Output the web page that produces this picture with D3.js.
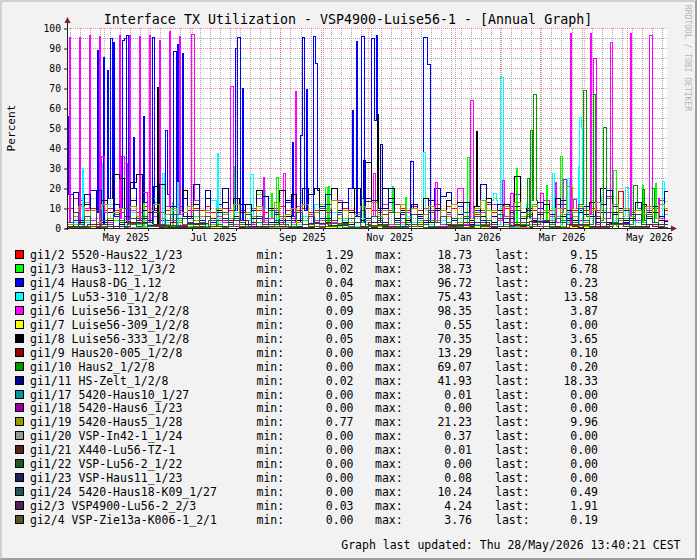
<!DOCTYPE html>
<html>
<head>
<meta charset="utf-8">
<script src="https://cdn.jsdelivr.net/npm/d3@7/dist/d3.min.js"></script>
<style>
body{margin:0;background:#f2f2f2;}
svg{display:block;}
text{font-family:"DejaVu Sans Mono",monospace;}
</style>
</head>
<body>
<script>
//--- data ---
let title = "Interface TX Utilization - VSP4900-Luise56-1 - [Annual Graph]"
let updated = "Graph last updated: Thu 28/May/2026 13:40:21 CEST"
let tEnd = new Date(2026,4,28,13,40,21)
let spanDays = 418.4          // days shown in the 600px canvas
let stepDays = 4              // step of the normal series
let coarseDays = 14           // step of the near-zero series

let names = ["gi1/2 5520-Haus22_1/23","gi1/3 Haus3-112_1/3/2","gi1/4 Haus8-DG_1.12","gi1/5 Lu53-310_1/2/8",
    "gi1/6 Luise56-131_2/2/8","gi1/7 Luise56-309_1/2/8","gi1/8 Luise56-333_1/2/8","gi1/9 Haus20-005_1/2/8",
    "gi1/10 Haus2_1/2/8","gi1/11 HS-Zelt_1/2/8","gi1/17 5420-Haus10_1/27","gi1/18 5420-Haus6_1/23",
    "gi1/19 5420-Haus5_1/28","gi1/20 VSP-In42-1_1/24","gi1/21 X440-Lu56-TZ-1","gi1/22 VSP-Lu56-2_1/22",
    "gi1/23 VSP-Haus11_1/23","gi1/24 5420-Haus18-K09_1/27","gi2/3 VSP4900-Lu56-2_2/3","gi2/4 VSP-Zie13a-K006-1_2/1"]
let colors = ["#ff0000","#00ff00","#0000ff","#00ffff","#ff00ff","#ffff00","#000000","#990000","#009900","#000099",
    "#009999","#990099","#999900","#999999","#552222","#225522","#222255","#225555","#552255","#555522"]
let mins  = [1.29,0.02,0.04,0.05,0.09,0.00,0.05,0.00,0.00,0.02,0.00,0.00,0.77,0.00,0.00,0.00,0.00,0.00,0.03,0.00]
let maxs  = [18.73,38.73,96.72,75.43,98.35,0.55,70.35,13.29,69.07,41.93,0.01,0.00,21.23,0.37,0.01,0.00,0.08,10.24,4.24,3.76]
let lasts = [9.15,6.78,0.23,13.58,3.87,0.00,3.65,0.10,0.20,18.33,0.00,0.00,9.96,0.00,0.00,0.00,0.00,0.49,1.91,0.19]

let yTicks = [0,10,20,30,40,50,60,70,80,90,100]

// base values, one per stepDays
let red_v = [10,15,14,9,10,8,9,10,9,8, 10,9,8,11,9,10,8,9,10,9, 8,9,10,9,11,8,9,10,9,8, 9,12,10,9,8,9,10,11,9,8,
    9,10,8,9,10,9,8,9,10,9, 8,9,10,9,8,7,9,12,10,9, 11,9,10,8,12,9,11,10,7,6, 1.3,7,9,12,8,9,10,9,11,8,
    7,9,10,8,9,12,10,8,9,11, 9,10,8,9,16,12,18.73,10,8,9, 11,9,10,14,9.15]
let lime_v = [1,2,0.5,13,1,3,2,1,4,2, 1,5,2,1,3,13,1,2,1,4, 2,1,6,2,1,3,9,1,2,4, 1,2,3,17,1,5,2,1,3,2,
    1,4,2,1,12,2,3,1,5,2, 1,3,2,6,1,2,8,1,3,2, 1,4,2,1,3,2,14,1,5,2, 1,3,2,9,1,4,2,7,1,3,
    2,11,1,4,2,6,1,3,8,2, 1,5,2,12,3,1,4,2,9,1, 3,2,5,1,6.78]
let blue_v = [17,4,12,3,19,8,2,15,6,10, 3,20,5,13,2,9,4,17,3,11, 6,2,14,4,8,3,12,5,2,9, 4,7,3,11,5,2,8,4,13,6,
    3,9,2,19,5,12,3,8,4,20, 6,3,15,5,9,2,13,4,7,3, 10,5,12,3,20,4,8,2,11,5, 3,9,4,13,2,7,5,11,3,8,
    6,2,10,4,7,3,12,5,2,9, 4,13,3,8,2,11,5,3,7,4, 2,6,3,12,0.23]
let cyan_v = [1,3,0.5,3,2,1,4,12,1,3, 2,8,1,4,2,15,1,3,9,1, 2,5,1,6,2,14,1,3,2,8, 1,4,2,1,10,2,5,1,3,1,
    2,6,1,12,2,3,8,1,4,2, 1,5,3,1,7,2,1,4,2,6, 3,1,9,2,1,4,2,5,1,3, 8,2,6,1,14,2,3,1,5,2,
    12,1,4,8,2,1,6,2,15,1, 3,5,2,9,1,4,2,6,1,3, 2,10,1,4,13.58]
let magenta_v = [3,6,2,10,4,1,8,3,12,5, 2,9,4,18,3,6,2,11,4,7, 2,5,14,3,8,1,6,3,10,2, 4,7,2,15,3,5,9,2,6,3,
    11,2,7,4,2,8,3,14,2,5, 3,9,2,6,4,12,2,5,3,8, 2,6,4,11,3,2,7,4,20,2, 5,3,8,2,12,4,6,2,17,3,
    9,5,2,14,6,3,8,2,10,4, 3,7,2,12,5,3,9,2,6,4, 2,8,3,5,3.87]
let black_v = [1,6,3,12,2,9,14,4,27,25, 3,23,27,5,8,2,22,4,10,3, 19,6,12,2,15,4,9,13,3,15, 8,12,5,19,4,10,3,19,6,17,
    4,12,17,20,9,5,20,13,3,8, 20,4,33,6,10,20,15,5,9,4, 12,7,15,3,10,6,14,5,13,8, 4,11,6,15,3,9,12,5,26,8,
    10,4,7,12,3,15,6,9,4,11, 7,13,5,20,3,8,10,4,6,9, 12,5,8,4,3.65]
let maroon_v = [0.5,1,2,0.3,1,0.5,3,1,0.2,2, 1,0.5,4,0.3,1,2,0.5,1,3,0.2, 1,0.5,2,1,0.3,5,1,0.5,2,1, 0.3,1,3,0.5,2,1,0.2,1,4,0.5,
    1,2,0.3,1,0.5,3,1,0.2,2,1, 0.5,1,13.29,0.3,2,1,0.5,3,1,0.2, 2,1,0.5,4,1,0.3,2,1,0.5,3, 1,0.2,2,1,0.5,5,1,0.3,2,1,
    0.5,3,1,0.2,2,1,0.5,4,1,0.3, 2,1,0.5,3,1,0.2,2,1,0.5,1, 0.3,2,1,0.5,0.1]
let green_v = [0.5,1,2,0.3,1,3,0.5,2,1,4, 0.5,2,1,0.3,3,1,2,0.5,1,5, 0.3,2,1,3,0.5,1,2,0.3,4,1, 2,0.5,1,3,0.3,2,1,6,0.5,1,
    3,0.3,2,1,0.5,4,1,2,0.3,1, 3,0.5,2,1,5,0.3,1,2,0.5,3, 1,2,0.3,4,1,0.5,3,2,1,6, 0.5,8,2,4,1,12,3,6,9,2,
    5,14,3,8,2,10,4,7,3,12, 6,2,9,4,15,3,8,5,2,10, 4,7,3,2,0.2]
let navy_v = [2,18,4,17,1,19,3,8,12,2, 6,14,3,9,4,21,2,7,11,3, 15,5,22,2,19,4,8,20,3,6, 12,2,9,5,16,3,7,2,14,4,
    8,20,6,3,11,17,4,9,13,2, 7,15,5,14,3,10,20,4,8,2, 12,6,3,14,9,16,18,4,7,13, 2,10,22,4,6,12,3,8,11,5,
    9,4,13,3,7,10,14,5,2,8, 11,6,3,12,19,7,4,9,5,13, 2,8,11,6,18.33]
let olive_v = [2,6,11,4,9,3,12,5,8,10, 4,11,6,3,9,12,5,7,10,3, 8,11,4,6,9,2,10,7,5,12, 3,8,6,11,4,9,13,5,7,10,
    3,12,6,8,4,10,14,5,9,3, 7,11,4,13,6,9,0.77,8,12,5, 10,3,7,11,4,9,6,12,3,8, 5,10,14,4,9,7,11,3,13,6,
    8,12,5,9,4,10,7,21.23,6,11, 3,9,13,5,8,12,4,10,6,9, 7,11,3,12,9.96]
let slate_v = [3,8,2,6,1,9,4,2,7,3, 10.24,5,1,6,3,8,2,4,7,1, 5,3,9,2,6,1,4,8,2,5, 3,7,1,6,2,9,4,3,1,5,
    8,2,6,3,10,1,4,7,2,5, 3,9,1,6,4,2,8,3,5,1, 7,2,4,9,3,6,1,5,2,8, 3,6,1,4,2,7,5,1,9,3,
    6,2,8,4,1,5,3,7,2,10, 4,1,6,3,8,2,5,1,4,7, 2,6,3,1,0.49]

// near-zero series, one value per coarseDays
let yellow_v = [0.1,0.3,0.2,0.55,0.1,0,0.2,0.3,0.1,0.4,0.2,0,0.1,0.3,0.2,0.1,0,0.2,0.4,0.1,0.3,0.2,0,0.1,0.2,0.3,0.1,0,0.2,0]
let teal_v   = [0,0,0.01,0,0,0,0,0.01,0,0,0,0,0,0.01,0,0,0,0,0,0,0.01,0,0,0,0,0,0,0,0,0]
let purple_v = [0,0,0,0,0,0,0,0,0,0,0,0,0,0,0,0,0,0,0,0,0,0,0,0,0,0,0,0,0,0]
let gray_v   = [0,0.1,0,0.37,0,0.2,0,0,0.1,0,0.3,0,0,0.1,0,0,0.2,0,0,0.1,0,0,0.3,0,0.1,0,0,0.2,0,0]
let g21_v    = [0,0,0.01,0,0,0,0,0,0,0.01,0,0,0,0,0,0,0.01,0,0,0,0,0,0,0,0.01,0,0,0,0,0]
let g22_v    = [0,0,0,0,0,0,0,0,0,0,0,0,0,0,0,0,0,0,0,0,0,0,0,0,0,0,0,0,0,0]
let g23_v    = [0,0.02,0,0.08,0,0.01,0,0,0.03,0,0,0.05,0,0,0.02,0,0,0.01,0,0.04,0,0,0.02,0,0,0.01,0,0.03,0,0]
let g23b_v   = [1.2,2.1,0.8,3.0,1.5,0.5,2.4,1.1,4.24,0.9,1.8,0.4,2.6,1.3,0.7,3.1,1.0,2.2,0.6,1.7,2.9,0.8,1.4,3.3,0.5,2.0,1.2,2.7,0.9,1.91]
let g24b_v   = [0.4,1.1,0.2,2.3,0.8,1.6,0.3,3.76,0.9,0.5,1.8,0.2,1.2,2.5,0.6,1.4,0.3,2.0,0.9,0.5,1.6,0.2,2.8,1.0,0.4,1.3,0.7,2.1,0.5,0.19]

// short peaks: [day from start, length in days, value]
let magenta_pk = [[1.4,1,95.7],[8.4,1,95.7],[15.3,1,96.5],[22.3,1,96],[23.5,2,36],[36.3,1,96.5],[37.6,2,36],[40,2,32.5],
    [43.2,1,96.5],[50.2,1,96],[57.2,1,96.5],[64.2,1,94],[71.1,1,98.35],[78.1,1,96],[86.5,2,97],[113.7,2,71],
    [136.7,1,25.5],[150.6,1.5,27.5],[159,1,68.5],[213.4,1.5,27.5],[256.6,1.5,23],[281,2,64],[303.4,1,24],[309,2,17.5],
    [329.8,2,17.5],[340.3,1,23],[345.9,2,24.5],[350.8,1,97.5],[353,2,14.5],[364.7,1,97.5],[366.8,2,85],[378.7,1,93],
    [392.6,1,97.5],[405.9,2,96.5],[412.1,1,15]]
let blue_pk = [[0,1,56],[20.9,1,89],[25.1,1,85.7],[27.9,1,79],[30,1.5,95],[32.1,1,93],[38.4,1.4,94],[39.8,1.4,95],
    [41.2,1.4,96.5],[46,1,45.5],[53,1,56],[59.3,1.5,95.5],[68.3,1.5,49],[73.9,2,88.5],[76.7,1,92],[80.2,1,87.5],
    [117.2,1,90],[118.5,2,95.5],[122,1,70],[156.9,1,43],[162.5,1.5,46.5],[164,1,95.5],[166.7,1,69.5],[171.5,1.5,96],
    [173,1,82.7],[198.7,1,59],[201.5,1,93.5],[205,2,96],[212,2,95],[214,1.5,54],[215.5,1,96.72],[239.2,2,33.5],
    [248.3,2.5,95.5],[250.8,2,82]]
let black_pk = [[62.8,1,70.35],[216.2,1,57],[285.2,1,48.5]]
let navy_pk = [[206.4,1.5,34],[218,2,41.93]]
let cyan_pk = [[10.5,1,30],[23.7,1,32.5],[66.3,1.5,27.5],[76.7,1,23],[104.6,1,37.5],[127.6,2,27],[136.7,1.5,19],
    [248.3,1,38],[297,2,17.5],[302,2,75.43],[338.2,1.5,27.5],[348.7,1.5,25],[356.4,0.7,31],[357.1,1.2,55.5],
    [358.3,1,50],[372.4,1.5,16],[389.2,2,20.5],[415,1.5,23.5]]
let lime_pk = [[53,1,38.73],[73.2,1,13],[115.8,1,31],[142.3,1,17.5],[145.8,1,25.5],[180,1,20.5],[182,1,21],
    [206.4,1,18],[226.6,1,21],[235.7,1,15.5],[279,1.5,35.5],[291.5,1,14],[313.1,1,30],[334,1,21.5],[343.8,1.5,36],
    [380.8,2,29],[401,1,21.5],[410,1,22.5]]
let green_pk = [[320.8,1.5,25],[323,1,49],[325,2,67],[359.9,2,69.07],[366.8,1.5,67],[373.8,2,50.5],[394.7,2.5,21.5],
    [401,1.5,19.5],[408,1.5,20]]

// series table in drawing order
let series = [
    {v:red_v, s:stepDays, pk:[]},      {v:lime_v, s:stepDays, pk:lime_pk},
    {v:blue_v, s:stepDays, pk:blue_pk}, {v:cyan_v, s:stepDays, pk:cyan_pk},
    {v:magenta_v, s:stepDays, pk:magenta_pk}, {v:yellow_v, s:coarseDays, pk:[]},
    {v:black_v, s:stepDays, pk:black_pk}, {v:maroon_v, s:stepDays, pk:[]},
    {v:green_v, s:stepDays, pk:green_pk}, {v:navy_v, s:stepDays, pk:navy_pk},
    {v:teal_v, s:coarseDays, pk:[]},   {v:purple_v, s:coarseDays, pk:[]},
    {v:olive_v, s:stepDays, pk:[]},    {v:gray_v, s:coarseDays, pk:[]},
    {v:g21_v, s:coarseDays, pk:[]},    {v:g22_v, s:coarseDays, pk:[]},
    {v:g23_v, s:coarseDays, pk:[]},    {v:slate_v, s:stepDays, pk:[]},
    {v:g23b_v, s:coarseDays, pk:[]},   {v:g24b_v, s:coarseDays, pk:[]}
]
series.forEach((d,i)=>{ d.color = colors[i] })

//--- layout ---
let W = 697, H = 560
let X0 = 67, X1 = 667, YT = 28, YB = 228
let DAY = 864e5
let tStart = new Date(+tEnd - spanDays*DAY)

let svg = d3.select("body").append("svg")
    .attr("width", W)
    .attr("height", H)

// background + shade frame
svg.append("rect").attr("width", W).attr("height", H).attr("fill", "#f2f2f2")
svg.append("path").attr("d", `M0.5,${H}V0.5H${W} M1.5,${H-1}V1.5H${W-1}`)
    .attr("fill", "none").attr("stroke", "#cfcfcf")
svg.append("path").attr("d", `M0,${H-0.5}H${W-0.5}V0 M1,${H-1.5}H${W-1.5}V1`)
    .attr("fill", "none").attr("stroke", "#9e9e9e")

// canvas
svg.append("rect").attr("x", X0).attr("y", YT).attr("width", X1-X0).attr("height", YB-YT).attr("fill", "#fff")

let xScale = d3.scaleTime().domain([tStart, tEnd]).range([X0, X1])
let yScale = d3.scaleLinear().domain([0, 100]).range([YB, YT])
let px = t => Math.round(xScale(t)) + 0.5
let py = v => Math.round(yScale(v)) + 0.5

// grid
let grid = svg.append("g").attr("shape-rendering", "crispEdges")
    .attr("stroke-dasharray", "1,1").attr("fill", "none")
let weeks = d3.timeMonday.range(tStart, tEnd)
let months = d3.timeMonth.range(tStart, tEnd)
let minorY = d3.range(5, 100, 10)
grid.selectAll(".wk").data(weeks).enter().append("line")
    .attr("x1", d=>px(d)).attr("x2", d=>px(d)).attr("y1", YT).attr("y2", YB)
    .attr("stroke", "rgba(143,143,143,0.8)")
grid.selectAll(".hy").data(minorY).enter().append("line")
    .attr("x1", X0).attr("x2", X1).attr("y1", d=>py(d)).attr("y2", d=>py(d))
    .attr("stroke", "rgba(143,143,143,0.8)")
grid.selectAll(".mo").data(months).enter().append("line")
    .attr("x1", d=>px(d)).attr("x2", d=>px(d)).attr("y1", YT).attr("y2", YB)
    .attr("stroke", "rgba(222,79,79,0.6)")
grid.selectAll(".my").data(yTicks.slice(1)).enter().append("line")
    .attr("x1", X0).attr("x2", X1).attr("y1", d=>py(d)).attr("y2", d=>py(d))
    .attr("stroke", "rgba(222,79,79,0.6)")

// turn base values + peaks into step points
function steps(d){
    let cuts = new Set()
    d.v.forEach((v,i)=>cuts.add(i*d.s))
    d.pk.forEach(p=>{ cuts.add(p[0]); cuts.add(p[0]+p[1]) })
    let ts = Array.from(cuts).filter(t=>t < spanDays).sort((a,b)=>a-b)
    let pts = ts.map(t=>{
        let p = d.pk.find(p=>t >= p[0] && t < p[0]+p[1])
        let v = p ? p[2] : d.v[Math.min(d.v.length-1, Math.floor(t/d.s))]
        return {t: new Date(+tStart + t*DAY), v: v}
    })
    pts.push({t: tEnd, v: pts[pts.length-1].v})
    return pts
}

let line = d3.line()
    .x(d=>px(d.t))
    .y(d=>py(d.v))
    .curve(d3.curveStepAfter)

svg.append("g").selectAll("path")
    .data(series)
    .enter()
    .append("path")
    .attr("d", d=>line(steps(d)))
    .attr("fill", "none")
    .attr("stroke", d=>d.color)
    .attr("stroke-width", 1)
    .attr("shape-rendering", "crispEdges")

// axes
let yAxis = d3.axisLeft(yScale).tickValues(yTicks).tickSize(3).tickPadding(3)
let ya = svg.append("g").attr("transform", `translate(${X0},0.5)`).call(yAxis)
ya.select(".domain").remove()
ya.selectAll("line").attr("stroke", "#1f1f1f")
ya.selectAll("text").style("font-family", "DejaVu Sans Mono").style("font-size", "9.7px").attr("fill", "#000")

let labelMonths = d3.timeMonth.range(tStart, tEnd).filter(d=>d.getMonth() % 2 == 0)
    .map(d=>new Date(+d + 15*DAY))
let xAxis = d3.axisBottom(xScale).tickValues(labelMonths).tickFormat(d3.timeFormat("%b %Y")).tickSize(0).tickPadding(6)
let xa = svg.append("g").attr("transform", `translate(0,${YB})`).call(xAxis)
xa.select(".domain").remove()
xa.selectAll("text").style("font-family", "DejaVu Sans Mono").style("font-size", "9.7px").attr("fill", "#000")

// small ticks on the time axis
svg.append("g").selectAll("line").data(months).enter().append("line")
    .attr("x1", d=>px(d)).attr("x2", d=>px(d)).attr("y1", YB).attr("y2", YB+3)
    .attr("stroke", "#1f1f1f").attr("shape-rendering", "crispEdges")

// axis lines + arrows
svg.append("path").attr("d", `M${X0+0.5},${YB+2}V${YT-6} M${X0-2},${YB+0.5}H${X1+6}`)
    .attr("stroke", "#1f1f1f").attr("shape-rendering", "crispEdges")
svg.append("path").attr("d", `M${X0-2.5},${YT-5}L${X0+0.5},${YT-11}L${X0+3.5},${YT-5}Z`).attr("fill", "#7f1f1f")
svg.append("path").attr("d", `M${X1+4},${YB-2.5}L${X1+10},${YB+0.5}L${X1+4},${YB+3.5}Z`).attr("fill", "#7f1f1f")

// texts
svg.append("text").attr("x", 348).attr("y", 24).attr("text-anchor", "middle")
    .style("font-size", "13.3px").text(title)
svg.append("text").attr("transform", `translate(15,${(YT+YB)/2}) rotate(-90)`).attr("text-anchor", "middle")
    .style("font-size", "11.1px").text("Percent")
svg.append("text").attr("transform", "translate(684.5,5) rotate(90)")
    .style("font-size", "8px").attr("fill", "#b5b5b5").text("RRDTOOL / TOBI OETIKER")

// legend
let fmt = d3.format(".2f")
let rows = svg.append("g").selectAll("g")
    .data(names)
    .enter()
    .append("g")
    .attr("transform", (d,i)=>`translate(0,${259 + i*13.95})`)
    .style("font-size", "11.5px")
rows.append("rect").attr("x", 15.5).attr("y", -8.5).attr("width", 8).attr("height", 8)
    .attr("fill", (d,i)=>colors[i]).attr("stroke", "#000").attr("shape-rendering", "crispEdges")
rows.append("text").attr("x", 30).text(d=>d)
rows.append("text").attr("x", 256.5).text("min:")
rows.append("text").attr("x", 353.5).attr("text-anchor", "end").text((d,i)=>fmt(mins[i]))
rows.append("text").attr("x", 375).text("max:")
rows.append("text").attr("x", 472).attr("text-anchor", "end").text((d,i)=>fmt(maxs[i]))
rows.append("text").attr("x", 495).text("last:")
rows.append("text").attr("x", 598).attr("text-anchor", "end").text((d,i)=>fmt(lasts[i]))

svg.append("text").attr("x", 680.5).attr("y", 549).attr("text-anchor", "end")
    .style("font-size", "11.5px").text(updated)
</script>
</body>
</html>
